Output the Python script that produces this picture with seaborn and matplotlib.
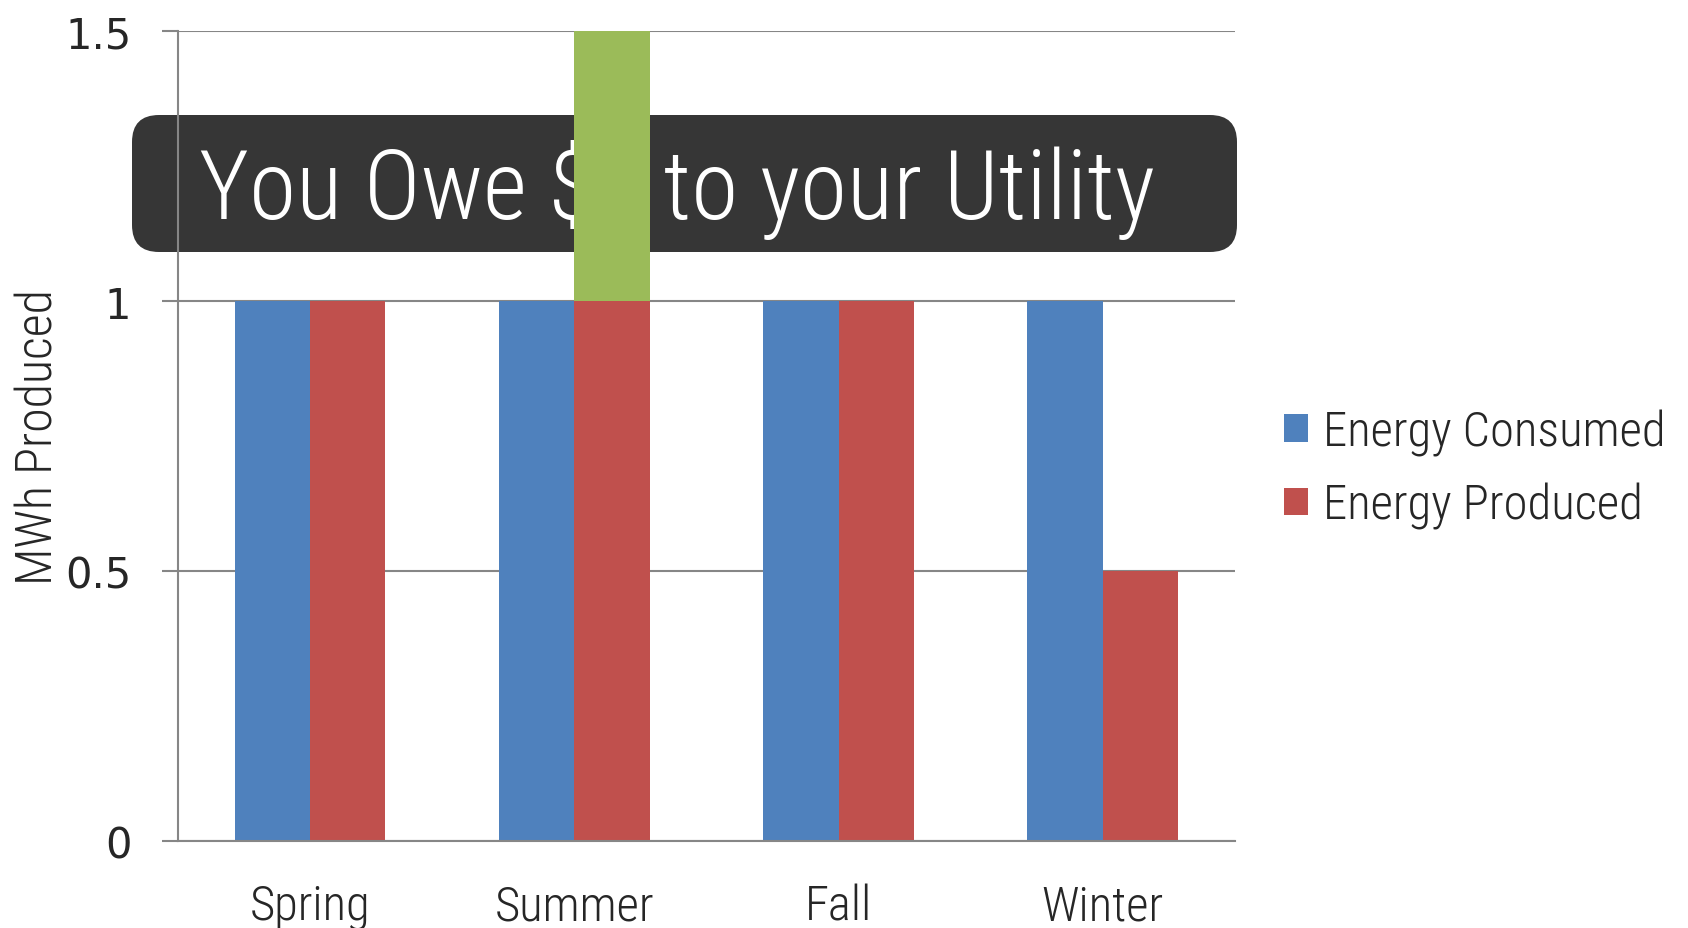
import pandas as pd
import matplotlib.pyplot as plt
import seaborn as sns
from matplotlib.patches import FancyBboxPatch

seasons = ['Spring', 'Summer', 'Fall', 'Winter']
consumed = [1, 1, 1, 1]
produced = [1, 1, 1, 0.5]
excess = [0, 0.5, 0, 0]
series_names = ['Energy Consumed', 'Energy Produced']
y_ticks = [0, 0.5, 1, 1.5]
y_labels = ['0', '0.5', '1', '1.5']
banner = 'You Owe $0 to your Utility'

blue, red, green = '#4F81BD', '#C0504D', '#9BBB59'
axis_grey = '#868686'
narrow = ['Roboto Condensed', 'Archivo Narrow', 'DejaVu Sans']

df = pd.DataFrame({
    'season': seasons * 2,
    'value': consumed + produced,
    'series': [series_names[0]] * 4 + [series_names[1]] * 4,
})

sns.set_style('white')
plt.rcParams['font.family'] = narrow
plt.rcParams['font.weight'] = 'light'
plt.rcParams['axes.labelweight'] = 'light'

fig = plt.figure(figsize=(16.88, 9.29), dpi=100)
ax = fig.add_axes([0.1054, 0.0937, 0.6262, 0.8718])

sns.barplot(data=df, x='season', y='value', hue='series', palette=[blue, red],
            width=0.57, saturation=1, linewidth=0, ax=ax)

# extra production stacked on top of the red bars
for i, patch in enumerate(ax.containers[1]):
    w = patch.get_width()
    ax.bar(patch.get_x() + w / 2, excess[i], width=w, bottom=produced[i],
           color=green, linewidth=0, zorder=5)

ax.set_xlim(-0.5, 3.5)
ax.set_ylim(0, 1.5)
ax.set_yticks(y_ticks)
ax.set_yticklabels(y_labels, family=['DejaVu Sans'], weight='normal', fontsize=30)
ax.set_xticks(range(len(seasons)))
ax.set_xticklabels(seasons, fontsize=35)
ax.set_xticks([i - 0.5 for i in range(len(seasons) + 1)], minor=True)
ax.tick_params(axis='x', which='major', length=0, pad=30)
ax.tick_params(axis='x', which='minor', length=11.5, width=1.5, color=axis_grey, direction='out')
ax.tick_params(axis='y', length=11.5, width=1.5, color=axis_grey, direction='out', pad=22, left=True)
ax.set_xlabel('')
ax.set_ylabel('MWh Produced', fontsize=36)
ax.yaxis.set_label_coords(-0.109, 0.5)

ax.grid(axis='y', color=axis_grey, linewidth=1.5)
ax.set_axisbelow(True)
for side in ['top', 'right']:
    ax.spines[side].set_visible(False)
for side in ['left', 'bottom']:
    ax.spines[side].set_color(axis_grey)
    ax.spines[side].set_linewidth(1.5)
    ax.spines[side].set_zorder(6)

# dark rounded banner over the plot
box = FancyBboxPatch((1.32, 6.76), 11.05, 1.37, boxstyle='round,pad=0,rounding_size=0.27',
                     facecolor='#363636', edgecolor='none', transform=fig.dpi_scale_trans,
                     clip_on=False, zorder=3)
ax.add_artist(box)
ax.text(1.99, 7.10, banner, color='white', fontsize=69, va='baseline', ha='left',
        transform=fig.dpi_scale_trans, clip_on=False, zorder=4)

handles, labels = ax.get_legend_handles_labels()
ax.legend(handles[:2], labels[:2], loc='center left', bbox_to_anchor=(1284 / 1688, 1 - 470 / 929),
          bbox_transform=fig.transFigure, frameon=False, fontsize=35, handlelength=0.5,
          handleheight=0.5, handletextpad=0.3, labelspacing=0.55, borderpad=0, borderaxespad=0)

fig.savefig('out.png', dpi=100)
